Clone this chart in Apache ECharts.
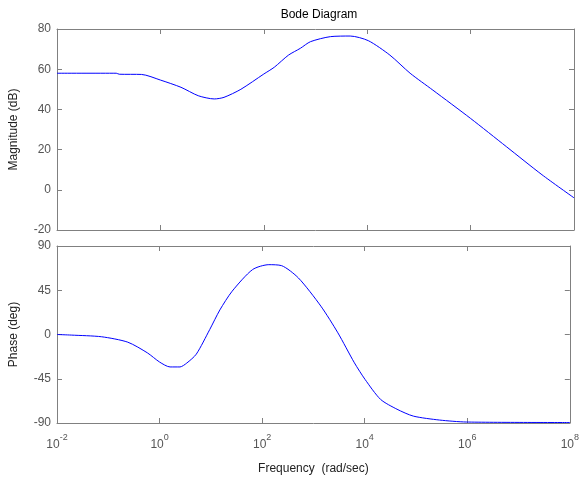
<!DOCTYPE html>
<html>
<head>
<meta charset="utf-8">
<script src="https://cdn.jsdelivr.net/npm/echarts@6/dist/echarts.min.js"></script>
<style>
  html, body { margin: 0; padding: 0; background: #fff; }
  #chart { width: 582px; height: 477px; }
</style>
</head>
<body>
<div id="chart"></div>
<script>
// frequency (rad/sec) and values
const magFreq = [0.01, 0.14, 0.16, 0.43, 1, 2.5, 5.4, 11, 17, 36, 100, 160, 300, 510, 800, 1950, 4700, 10500, 27500, 67600, 186000, 1e6, 4.9e6, 2.4e7, 1e8]
const magDb = [58, 58, 57.5, 57.4, 54.6, 51, 46.8, 45.2, 46, 50, 57.6, 61, 67, 70.4, 73.7, 76.2, 76.5, 74.2, 67, 58, 49.6, 35.5, 21.5, 7.5, -4]
const phaseFreq = [0.01, 0.019, 0.074, 0.24, 0.58, 1, 1.6, 2.5, 3.4, 5.2, 9.5, 15, 26, 65, 135, 240, 510, 1400, 3000, 6300, 10200, 20400, 42700, 89000, 288000, 955000, 1e8]
const phaseDeg = [0, -0.6, -2.3, -7.8, -18.7, -28, -33, -33, -29, -20, 5, 25, 44, 66, 71, 70, 57.5, 28.8, 1.7, -28.8, -45.8, -66, -76, -83, -87, -89, -89.5]
const magTicks = [-20, 0, 20, 40, 60, 80]
const phaseTicks = [-90, -45, 0, 45, 90]

const frameColor = '#808080'
const labelColor = '#555'
const font = 'Liberation Sans, Arial, sans-serif'

const chart = echarts.init(document.getElementById('chart'))

function pairs (xs, ys) {
  return xs.map((x, i) => [x, ys[i]])
}

function xAxisFor (gridIndex, position, showLabels) {
  return {
    type: 'log',
    logBase: 10,
    gridIndex: gridIndex,
    position: position,
    min: 0.01,
    max: 1e8,
    interval: 2,
    axisLine: { show: true, onZero: false, lineStyle: { color: frameColor, width: 1 } },
    axisTick: { show: true, inside: true, length: 5, lineStyle: { color: frameColor } },
    splitLine: { show: false },
    minorTick: { show: false },
    axisLabel: {
      show: showLabels,
      margin: 10,
      formatter: function (v) {
        const e = Math.round(Math.log10(v))
        return '{b|10}{s|' + e + '}'
      },
      rich: {
        b: { fontFamily: font, fontSize: 12, color: labelColor, padding: [6, 0, 0, 0] },
        s: { fontFamily: font, fontSize: 9, color: labelColor, verticalAlign: 'top', padding: [0, 0, 6, 0] }
      }
    },
    name: showLabels && gridIndex === 1 ? 'Frequency  (rad/sec)' : '',
    nameLocation: 'middle',
    nameGap: 40,
    nameTextStyle: { fontFamily: font, fontSize: 12, color: '#222' }
  }
}

function yAxisFor (gridIndex, position, showLabels, min, max, interval, name) {
  return {
    type: 'value',
    gridIndex: gridIndex,
    position: position,
    min: min,
    max: max,
    interval: interval,
    axisLine: { show: true, onZero: false, lineStyle: { color: frameColor, width: 1 } },
    axisTick: { show: true, inside: true, length: 5, lineStyle: { color: frameColor } },
    splitLine: { show: false },
    axisLabel: {
      show: showLabels,
      margin: 6,
      fontFamily: font,
      fontSize: 12,
      color: labelColor
    },
    name: showLabels ? name : '',
    nameLocation: 'middle',
    nameGap: 37,
    nameTextStyle: { fontFamily: font, fontSize: 12, color: '#222' }
  }
}

chart.setOption({
  animation: false,
  backgroundColor: '#fff',
  title: {
    text: 'Bode Diagram',
    left: 314,
    top: 4,
    textAlign: 'center',
    textStyle: { fontFamily: font, fontSize: 12, fontWeight: 'normal', color: '#000' }
  },
  grid: [
    { left: 55, top: 29, width: 519, height: 201 },
    { left: 55, top: 246, width: 519, height: 177 }
  ],
  xAxis: [
    xAxisFor(0, 'bottom', false),
    xAxisFor(0, 'top', false),
    xAxisFor(1, 'bottom', true),
    xAxisFor(1, 'top', false)
  ],
  yAxis: [
    yAxisFor(0, 'left', true, magTicks[0], magTicks[magTicks.length - 1], 20, 'Magnitude (dB)'),
    yAxisFor(0, 'right', false, magTicks[0], magTicks[magTicks.length - 1], 20, ''),
    yAxisFor(1, 'left', true, phaseTicks[0], phaseTicks[phaseTicks.length - 1], 45, 'Phase (deg)'),
    yAxisFor(1, 'right', false, phaseTicks[0], phaseTicks[phaseTicks.length - 1], 45, '')
  ],
  series: [
    {
      name: 'Magnitude',
      type: 'line',
      xAxisIndex: 0,
      yAxisIndex: 0,
      data: pairs(magFreq, magDb),
      smooth: 0.25,
      showSymbol: false,
      lineStyle: { color: '#0000ff', width: 1 }
    },
    {
      name: 'Phase',
      type: 'line',
      xAxisIndex: 2,
      yAxisIndex: 2,
      data: pairs(phaseFreq, phaseDeg),
      smooth: 0.25,
      showSymbol: false,
      lineStyle: { color: '#0000ff', width: 1 }
    }
  ]
})
</script>
</body>
</html>
